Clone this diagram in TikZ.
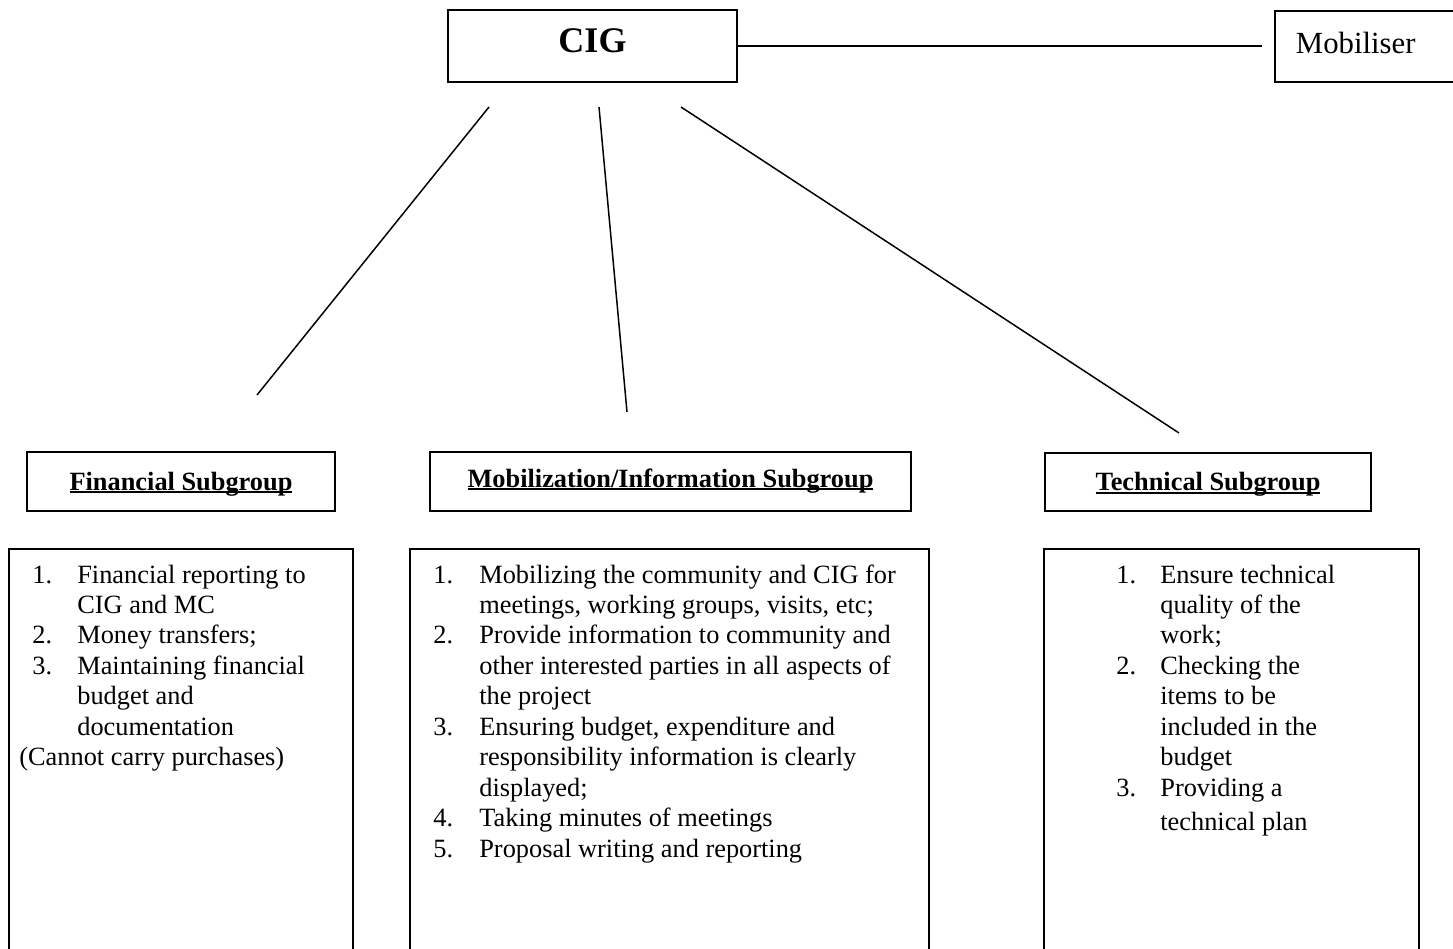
\documentclass[tikz,border=0pt]{standalone}
\usepackage{fontspec}
\setmainfont{Liberation Serif}
\usetikzlibrary{calc}
\newcommand\subline[1]{\setbox0\hbox{#1}\rlap{\rule[-1.6pt]{\wd0}{0.9pt}}\box0}

\begin{document}
\begin{tikzpicture}[x=0.02cm, y=-0.02cm,
		box/.style={draw, line width=1.1pt, inner sep=0pt},
		head/.style={box, font=\fontsize{15}{17.4}\selectfont\bfseries, text height=0.35cm, text depth=0cm},
		list/.style={anchor=base west, inner sep=0pt, font=\fontsize{15}{17.35}\selectfont},
		link/.style={line width=0.85pt}]
			%%%%% START %%%%%
			\useasboundingbox (0,0) rectangle (1453,949);
			\clip (0,0) rectangle (1453,949);
			
			\node[box, minimum width=5.78cm, minimum height=1.44cm, font=\fontsize{20.5}{24}\selectfont\bfseries, text height=0.55cm, text depth=0.27cm] (cig) at (592.5,46) {CIG};
			\node[box, anchor=west, minimum height=1.42cm, inner xsep=0.42cm, text width=3.5cm, align=left, font=\fontsize{17.5}{21}\selectfont, text height=0.4cm, text depth=0.12cm] (mobiliser) at (1274,46.5) {Mobiliser};
			\coordinate (mobend) at (1262,46);
			\draw[link] (cig.east) -- (mobend);
			
			\coordinate (cigfin) at (489,107);
			\coordinate (cigmob) at (599,107);
			\coordinate (cigtech) at (681,107);
			\coordinate (finend) at (257,395);
			\coordinate (mobend2) at (627,412);
			\coordinate (techend) at (1179,433);
			\draw[link] (cigfin) -- (finend);
			\draw[link] (cigmob) -- (mobend2);
			\draw[link] (cigtech) -- (techend);
			
			\node[head, minimum width=6.16cm, minimum height=1.18cm] (finhead) at (181,481.5) {\subline{Financial Subgroup}};
			\node[head, minimum width=9.62cm, minimum height=1.18cm, text depth=0.13cm] (mobhead) at (670.5,481.5) {\subline{Mobilization/Information Subgroup}};
			\node[head, minimum width=6.52cm, minimum height=1.16cm] (techhead) at (1208,482) {\subline{Technical Subgroup}};
			
			\node[box, anchor=north, minimum width=6.88cm, minimum height=9cm] (finbox) at (181,548) {};
			\node[box, anchor=north, minimum width=10.38cm, minimum height=9cm] (mobbox) at (669.5,548) {};
			\node[box, anchor=north, minimum width=7.5cm, minimum height=9cm] (techbox) at (1231.5,548) {};
			
			\node[list] (finlist) at (19,583) {\begin{tabular}[t]{@{}p{1.16cm}@{}l@{}}
				\hspace*{0.26cm}1. & Financial reporting to\\
				& CIG and MC\\
				\hspace*{0.26cm}2. & Money transfers;\\
				\hspace*{0.26cm}3. & Maintaining financial\\
				& budget and\\
				& documentation\\
				\multicolumn{2}{@{}l@{}}{(Cannot carry purchases)}
			\end{tabular}};
			
			\node[list] (moblist) at (433,583) {\begin{tabular}[t]{@{}p{0.92cm}@{}l@{}}
				1. & Mobilizing the community and CIG for\\
				& meetings, working groups, visits, etc;\\
				2. & Provide information to community and\\
				& other interested parties in all aspects of\\
				& the project\\
				3. & Ensuring budget, expenditure and\\
				& responsibility information is clearly\\
				& displayed;\\
				4. & Taking minutes of meetings\\
				5. & Proposal writing and reporting
			\end{tabular}};
			
			\node[list] (techlist) at (1116,583) {\begin{tabular}[t]{@{}p{0.88cm}@{}l@{}}
				1. & Ensure technical\\
				& quality of the\\
				& work;\\
				2. & Checking the\\
				& items to be\\
				& included in the\\
				& budget\\
				3. & Providing a\\[2pt]
				& technical plan
			\end{tabular}};
			
			%%%%% END %%%%%
\end{tikzpicture}
\end{document}
